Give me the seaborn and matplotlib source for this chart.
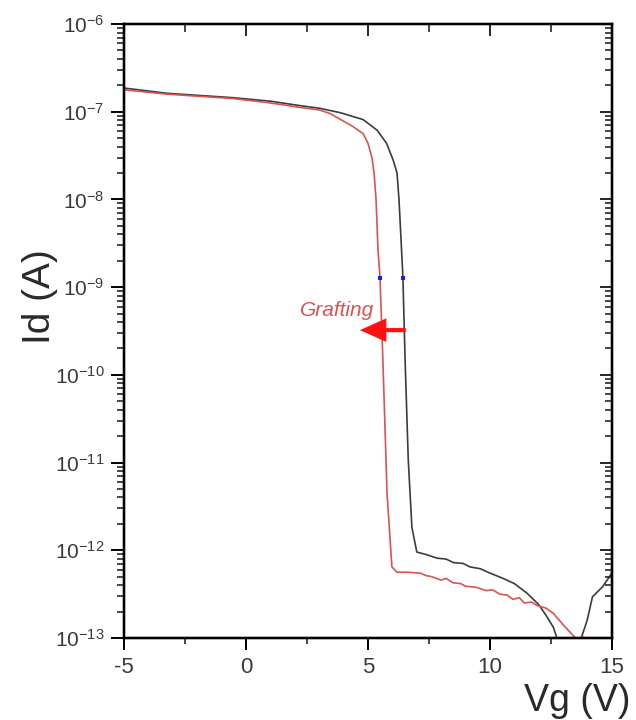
import numpy as np
import pandas as pd
import matplotlib
matplotlib.use("Agg")
import matplotlib.pyplot as plt
from matplotlib.ticker import MultipleLocator, LogLocator, NullFormatter, FixedLocator
import seaborn as sns

# ---- data ----
vg_before = [-5, -3.24, -0.53, 1.0, 2.2, 3.0, 3.85, 4.8, 5.37, 5.76, 6.03, 6.19, 6.27,
             6.34, 6.43, 6.52, 6.65, 6.8, 7.0, 7.4, 7.83, 8.2, 8.5, 8.9, 9.18, 9.6,
             10.0, 10.53, 11.0, 11.52, 12.0, 12.34, 12.6, 12.8, 13.1, 13.6, 13.8,
             13.98, 14.2, 14.6, 14.9, 15.0]
log_id_before = [-6.73, -6.79, -6.84, -6.88, -6.93, -6.96, -7.01, -7.09, -7.21, -7.36,
                 -7.55, -7.70, -8.00, -8.38, -8.88, -9.83, -10.97, -11.74, -12.02,
                 -12.05, -12.09, -12.10, -12.14, -12.15, -12.19, -12.21, -12.26,
                 -12.32, -12.38, -12.49, -12.62, -12.76, -12.88, -13.05, -13.3,
                 -13.1, -12.95, -12.80, -12.53, -12.42, -12.30, -12.25]

vg_after = [-5, -3.24, -0.53, 1.0, 2.2, 3.0, 3.44, 4.39, 4.8, 5.0, 5.16, 5.25, 5.33,
            5.41, 5.49, 5.61, 5.78, 5.98, 6.19, 6.6, 7.13, 7.4, 7.6, 8.0, 8.2, 8.48,
            8.8, 9.0, 9.4, 9.85, 10.1, 10.4, 10.7, 10.94, 11.2, 11.4, 11.7, 11.93,
            12.3, 12.6, 13.0, 13.4, 13.6, 13.8, 14.0]
log_id_after = [-6.75, -6.80, -6.85, -6.90, -6.95, -6.98, -7.02, -7.17, -7.25, -7.36,
                -7.52, -7.70, -8.00, -8.58, -8.88, -9.83, -11.35, -12.19, -12.25,
                -12.25, -12.26, -12.29, -12.30, -12.34, -12.32, -12.37, -12.38,
                -12.41, -12.42, -12.46, -12.45, -12.50, -12.51, -12.56, -12.54,
                -12.60, -12.59, -12.63, -12.66, -12.72, -12.85, -12.97, -13.02,
                -12.98, -13.10]

marker_vg = [5.49, 6.43]
marker_log_id = [-8.9, -8.9]

x_ticks = [-5, 0, 5, 10, 15]
y_tick_exponents = [-13, -12, -11, -10, -9, -8, -7, -6]

# ---- build table ----
df = pd.concat([
    pd.DataFrame({"Vg": vg_before, "Id": 10.0 ** np.array(log_id_before), "sample": "before"}),
    pd.DataFrame({"Vg": vg_after, "Id": 10.0 ** np.array(log_id_after), "sample": "after"}),
], ignore_index=True)

sns.set_theme(style="ticks")
plt.rcParams["font.family"] = ["Liberation Sans", "DejaVu Sans"]
plt.rcParams["mathtext.default"] = "regular"
plt.rcParams["axes.unicode_minus"] = False

fig = plt.figure(figsize=(6.36, 7.2), dpi=100)
ax = fig.add_axes([124 / 636, 1 - 638 / 720, 488 / 636, 614 / 720])

sns.lineplot(data=df, x="Vg", y="Id", hue="sample", sort=False, estimator=None,
             palette={"before": "#3c3c3c", "after": "#d9534f"}, linewidth=1.2,
             legend=False, ax=ax)
ax.scatter(marker_vg, 10.0 ** np.array(marker_log_id), marker="s", s=6,
           color="#1a1aff", zorder=5, linewidths=0)

y_major = [10.0 ** e for e in y_tick_exponents]
y_minor = [m * 10.0 ** e for e in y_tick_exponents[:-1] for m in range(2, 10)]

ax.set_yscale("log")
ax.set_xlim(-5, 15)
ax.set_ylim(1e-13, 1e-6)
ax.xaxis.set_major_locator(FixedLocator(x_ticks))
ax.xaxis.set_minor_locator(MultipleLocator(2.5))
ax.yaxis.set_major_locator(FixedLocator(y_major))
ax.yaxis.set_minor_locator(FixedLocator(y_minor))
ax.yaxis.set_minor_formatter(NullFormatter())
ax.set_yticklabels([rf"$10^{{{e}}}$" for e in y_tick_exponents])
ax.set_xlabel("")
ax.set_ylabel("")

for s in ax.spines.values():
    s.set_linewidth(1.6)
    s.set_color("black")
    s.set_visible(True)

ax.tick_params(axis="both", which="major", direction="out", width=1.4,
               color="black", labelsize=15, labelcolor="#3a3a3a")
ax.tick_params(axis="x", which="major", length=8.5, pad=5, labelsize=16)
ax.tick_params(axis="x", which="minor", direction="out", length=4.5, width=1.2)
ax.tick_params(axis="y", which="major", length=9.5, pad=4.5)
ax.tick_params(axis="y", which="minor", direction="out", length=5, width=1.2)

# mirrored inward ticks on top and right
axt = ax.twiny()
axt.set_xlim(ax.get_xlim())
axt.xaxis.set_major_locator(FixedLocator(x_ticks))
axt.xaxis.set_minor_locator(MultipleLocator(2.5))
axt.tick_params(axis="x", which="major", direction="in", length=8.5, width=1.4,
                labeltop=False, top=True)
axt.tick_params(axis="x", which="minor", direction="in", length=5.5, width=1.2, top=True)
axt.set_xlabel("")
axr = ax.twinx()
axr.set_yscale("log")
axr.set_ylim(ax.get_ylim())
axr.yaxis.set_major_locator(FixedLocator(y_major))
axr.yaxis.set_minor_locator(FixedLocator(y_minor))
axr.tick_params(axis="y", which="major", direction="in", length=9, width=1.4,
                labelright=False, right=True)
axr.tick_params(axis="y", which="minor", direction="in", length=5, width=1.2, right=True)
axr.set_ylabel("")
for a in (axt, axr):
    for s in a.spines.values():
        s.set_linewidth(1.6)
        s.set_color("black")

# annotation
ax.annotate("", xy=(4.67, 10 ** -9.49), xytext=(6.55, 10 ** -9.49),
            arrowprops=dict(arrowstyle="simple,head_length=0.95,head_width=0.85,tail_width=0.15",
                            mutation_scale=20, color="#ff1010", lw=0, shrinkA=0, shrinkB=0),
            zorder=6)
ax.text(3.73, 10 ** -9.33, "Grafting", color="#d9534f", fontsize=15, fontstyle="italic",
        ha="center", va="baseline")

fig.text(40 / 636, 1 - 297 / 720, "Id (A)", rotation=90, fontsize=28, color="#2a2a2a",
         ha="center", va="center")
fig.text(631 / 636, 1 - 711 / 720, "Vg (V)", fontsize=27, color="#2a2a2a",
         ha="right", va="baseline")

fig.savefig("out.png", dpi=100)
